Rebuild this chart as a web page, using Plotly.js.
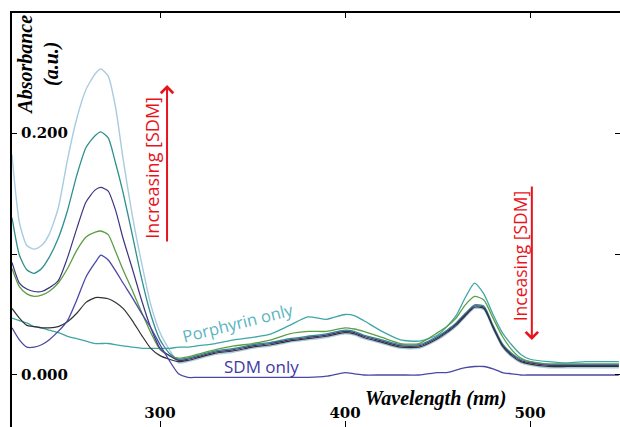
<!DOCTYPE html>
<html>
<head>
<meta charset="utf-8">
<script src="https://cdn.plot.ly/plotly-3.0.1.min.js"></script>
<style>
html,body{margin:0;padding:0;overflow:hidden;background:#fff;}
#chart{width:620px;height:427px;}
</style>
</head>
<body>
<div id="chart"></div>
<script>
// Wavelength grid (nm)
const wavelength = [220,224,228,232,236,240,245,250,255,260,265,268,272,276,280,285,290,295,300,305,
  310,315,320,330,340,350,360,370,380,390,400,405,410,420,430,440,450,455,460,465,470,475,480,485,490,495,500,510,520,530,540,548];

// Absorbance series (a.u.)
const seriesA = [0.182,0.126,0.107,0.104,0.107,0.116,0.138,0.178,0.212,0.236,0.249,0.253,
  0.247,0.221,0.179,0.132,0.093,0.058,0.035,0.021,
  0.010,0.011,0.013,0.017,0.019,0.022,0.024,0.027,0.029,0.031,0.034,0.033,0.030,0.026,0.022,0.022,0.029,0.034,0.040,0.048,0.055,0.054,0.038,0.023,0.015,0.010,0.008,0.006,0.006,0.006,0.006,0.006];
const seriesB = [0.130,0.099,0.087,0.084,0.088,0.097,0.113,0.136,0.165,0.188,0.198,0.201,
  0.196,0.175,0.151,0.116,0.080,0.050,0.029,0.018,
  0.013,0.014,0.016,0.020,0.022,0.025,0.027,0.030,0.032,0.034,0.037,0.036,0.033,0.029,0.025,0.025,0.032,0.037,0.043,0.051,0.058,0.057,0.041,0.026,0.018,0.013,0.011,0.009,0.009,0.009,0.009,0.009];
const seriesC = [0.093,0.076,0.071,0.069,0.069,0.072,0.078,0.097,0.121,0.143,0.153,0.155,
  0.152,0.136,0.113,0.088,0.062,0.039,0.022,0.016,
  0.012,0.013,0.015,0.019,0.021,0.024,0.026,0.029,0.031,0.033,0.036,0.035,0.032,0.028,0.024,0.024,0.031,0.036,0.042,0.050,0.057,0.056,0.040,0.025,0.017,0.012,0.010,0.008,0.008,0.008,0.008,0.008];
const seriesD = [0.088,0.073,0.067,0.065,0.066,0.069,0.076,0.088,0.103,0.114,0.118,0.119,
  0.116,0.102,0.087,0.070,0.052,0.035,0.021,0.016,
  0.014,0.015,0.017,0.021,0.024,0.026,0.029,0.034,0.036,0.036,0.039,0.038,0.036,0.031,0.026,0.026,0.035,0.040,0.047,0.058,0.065,0.062,0.047,0.032,0.021,0.014,0.011,0.009,0.009,0.009,0.009,0.009];
const seriesF = [0.055,0.047,0.041,0.040,0.039,0.039,0.040,0.044,0.051,0.060,0.064,0.064,
  0.063,0.060,0.055,0.045,0.033,0.022,0.016,0.013,
  0.011,0.012,0.014,0.018,0.020,0.023,0.025,0.028,0.030,0.032,0.035,0.034,0.031,0.027,0.023,0.023,0.030,0.035,0.041,0.049,0.056,0.055,0.039,0.024,0.016,0.011,0.009,0.007,0.007,0.007,0.007,0.007];
const sdmOnly = [0.039,0.029,0.023,0.023,0.025,0.029,0.036,0.045,0.062,0.081,0.093,0.099,
  0.095,0.086,0.076,0.064,0.051,0.039,0.025,0.012,
  0.001,-0.002,-0.002,-0.002,-0.002,-0.002,-0.002,-0.002,-0.002,-0.001,0.002,0.001,0.000,0.000,0.000,0.000,0.002,0.002,0.004,0.006,0.007,0.007,0.005,0.002,0.001,0.000,0.000,0.000,0.000,0.000,0.000,0.000];
const porphyrinOnly = [0.047,0.045,0.043,0.040,0.039,0.037,0.035,0.032,0.030,0.028,0.026,0.026,
  0.026,0.025,0.024,0.023,0.022,0.022,0.022,0.022,
  0.023,0.023,0.024,0.026,0.029,0.031,0.034,0.041,0.048,0.046,0.050,0.049,0.045,0.036,0.029,0.028,0.033,0.040,0.049,0.064,0.076,0.067,0.050,0.035,0.025,0.017,0.013,0.011,0.010,0.011,0.011,0.011];

const xTicks = [300,400,500];
const yTicks = [0,0.1,0.2];
const yTickText = ['0.000','','0.200'];

function tr(y, color, w){
  return {x: wavelength, y: y, type:'scatter', mode:'lines',
    line:{color:color, width:w||1.2, shape:'spline', smoothing:0.6}, hoverinfo:'skip'};
}
const data = [
  tr(seriesA,'#a9cbe0',1.4),
  tr(porphyrinOnly,'#3ea6a4',1.3),
  tr(seriesB,'#2f8f8f',1.3),
  tr(seriesD,'#5c9e45',1.3),
  tr(seriesC,'#3d3482',1.2),
  tr(seriesF,'#333333',1.2),
  tr(sdmOnly,'#4a48a6',1.3),
  {x:[300,500], y:[0,0], xaxis:'x2', yaxis:'y', mode:'lines', line:{width:0}, hoverinfo:'skip', showlegend:false}
];

const serifBold = {family:'DejaVu Serif', size:15, color:'#000', weight:'bold'};
const titleFont = {family:'Liberation Serif', size:20, color:'#000', weight:'bold', style:'italic'};
const sans = 'Open Sans';

const layout = {
  width:620, height:427,
  margin:{l:12, r:0, t:13, b:0, pad:0},
  paper_bgcolor:'#fff', plot_bgcolor:'#fff',
  showlegend:false,
  xaxis:{range:[220,548.6], showline:false, showgrid:false, zeroline:false,
    tickvals:xTicks, ticks:'inside', ticklen:6, tickwidth:1, tickcolor:'#000',
    ticklabelposition:'inside', ticklabelstandoff:0, tickfont:serifBold},
  xaxis2:{range:[220,548.6], overlaying:'x', side:'top', showline:true, linewidth:2, linecolor:'#000',
    showgrid:false, zeroline:false, tickvals:xTicks, ticks:'inside', ticklen:5, tickcolor:'#000', showticklabels:false},
  yaxis:{range:[-0.043,0.2992], showline:true, linewidth:2, linecolor:'#000', mirror:'ticks',
    showgrid:false, zeroline:false, tickvals:yTicks, ticktext:yTickText,
    ticks:'inside', ticklen:5, tickwidth:1, tickcolor:'#000',
    ticklabelposition:'inside', ticklabelstandoff:4, tickfont:serifBold},
  annotations:[
    {xref:'paper', yref:'paper', x:0.0436, y:0.874, text:'Absorbance<br>(a.u.)', textangle:-90,
      showarrow:false, font:titleFont, xanchor:'center', yanchor:'middle'},
    {xref:'paper', yref:'paper', x:0.696, y:0.070, text:'Wavelength (nm)', showarrow:false,
      font:titleFont, xanchor:'center', yanchor:'middle'},
    {xref:'paper', yref:'paper', x:0.372, y:0.253, text:'Porphyrin only', textangle:-14, showarrow:false,
      font:{family:sans, size:16.5, color:'#5bb5c2'}, xanchor:'center', yanchor:'middle'},
    {xref:'paper', yref:'paper', x:0.410, y:0.145, text:'SDM only', showarrow:false,
      font:{family:sans, size:17, color:'#3f3aa4'}, xanchor:'center', yanchor:'middle'},
    {xref:'paper', yref:'paper', x:0.230, y:0.626, text:'Increasing [SDM]', textangle:-90, showarrow:false,
      font:{family:sans, size:18, color:'#e8141c'}, xanchor:'center', yanchor:'middle'},
    {xref:'paper', yref:'paper', x:0.836, y:0.413, text:'Inceasing [SDM]', textangle:-90, showarrow:false,
      font:{family:sans, size:17.5, color:'#e8141c'}, xanchor:'center', yanchor:'middle'},
    {xref:'paper', yref:'paper', x:0.255, y:0.826, text:'', showarrow:true, ax:0, ay:158,
      arrowcolor:'#e8141c', arrowwidth:2, arrowhead:4, arrowsize:1.2, standoff:0, startstandoff:0},
    {xref:'paper', yref:'paper', x:0.855, y:0.210, text:'', showarrow:true, ax:0, ay:-155,
      arrowcolor:'#e8141c', arrowwidth:2, arrowhead:4, arrowsize:1.2, standoff:0, startstandoff:0}
  ]
};

Plotly.newPlot('chart', data, layout, {displayModeBar:false, staticPlot:true});
</script>
</body>
</html>
